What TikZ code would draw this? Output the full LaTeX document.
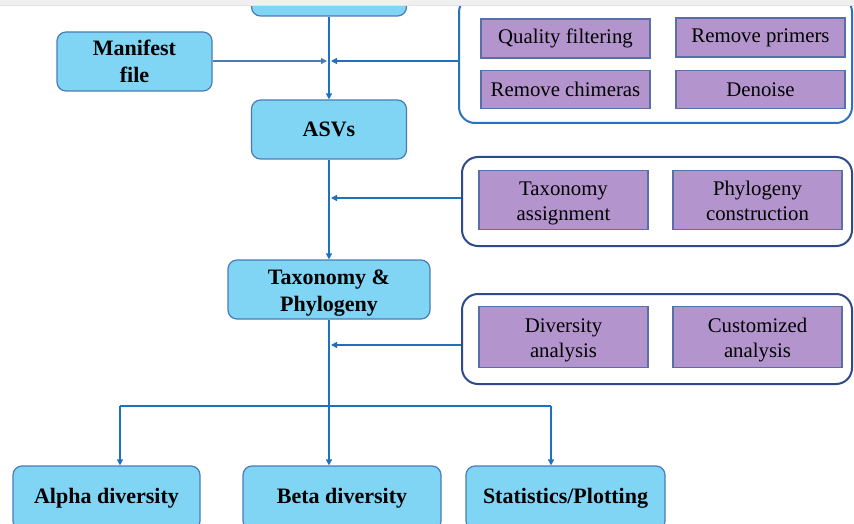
\documentclass[tikz,border=0pt]{standalone}
\usepackage{fontspec}
\setmainfont{Liberation Serif}
\usetikzlibrary{arrows.meta}
\definecolor{bfill}{HTML}{80D4F4}
\definecolor{bdraw}{HTML}{4A7BB7}
\definecolor{pfill}{HTML}{B394CC}
\definecolor{pdraw}{HTML}{5A6FA8}
\definecolor{lineblue}{HTML}{1F70C1}
\definecolor{panA}{HTML}{2A72C0}
\definecolor{panB}{HTML}{2D4A8A}
\definecolor{band}{HTML}{F0F0F0}
\definecolor{bandline}{HTML}{E2E2E2}
\begin{document}
\begin{tikzpicture}[x=1pt,y=-1pt,
  bluebox/.style={draw=bdraw,fill=bfill,line width=1.2pt,rounded corners=9pt,
    font=\fontsize{22}{27}\selectfont\bfseries,align=center,inner sep=0pt},
  purplebox/.style={draw=pdraw,fill=pfill,line width=1.2pt,
    font=\fontsize{20.8}{25.5}\selectfont,align=center,inner sep=0pt,minimum width=169pt},
  twoline/.style={text height=41pt,text depth=0pt},
  panel/.style={line width=2pt,rounded corners=16pt,inner sep=0pt},
  arrowline/.style={draw=lineblue,line width=1.8pt,-{Triangle[length=6pt,width=6pt]}},
  plainline/.style={draw=lineblue,line width=1.8pt}]
\useasboundingbox (0,0) rectangle (854,524);
\clip (0,0) rectangle (854,524);

% panels
\node[panel,draw=panA,minimum width=393pt,minimum height=127pt] (panel1) at (655.5,59.5) {};
\node[panel,draw=panB,minimum width=390pt,minimum height=89pt] (panel2) at (657,201.5) {};
\node[panel,draw=panB,minimum width=390pt,minimum height=90pt] (panel3) at (657,339) {};

% purple boxes
\node[purplebox,minimum height=39pt] (qf) at (565.5,38.5) {Quality filtering};
\node[purplebox,minimum height=39pt] (rp) at (760.5,37.5) {Remove primers};
\node[purplebox,minimum height=38pt] (rc) at (565.5,89.5) {Remove chimeras};
\node[purplebox,minimum height=38pt] (dn) at (760.5,89.5) {Denoise};
\node[purplebox,twoline,minimum height=59pt] (ta) at (563.5,200) {Taxonomy\\assignment};
\node[purplebox,twoline,minimum height=59pt] (pc) at (757.5,200) {Phylogeny\\construction};
\node[purplebox,twoline,minimum height=61pt] (da) at (563.5,337) {Diversity\\analysis};
\node[purplebox,twoline,minimum height=61pt] (ca) at (757.5,337) {Customized\\analysis};

% blue boxes
\node[bluebox,minimum width=155pt,minimum height=60pt] (top) at (329,-14) {};
\node[bluebox,minimum width=155pt,minimum height=59pt] (manifest) at (134.5,61.5) {Manifest\\file};
\node[bluebox,minimum width=155pt,minimum height=59pt] (asvs) at (329,129.5) {ASVs};
\node[bluebox,text height=44pt,text depth=0pt,minimum width=202pt,minimum height=59pt] (taxphy) at (329,289.5) {Taxonomy \&\\Phylogeny};
\node[bluebox,minimum width=187pt,minimum height=64pt] (alpha) at (106.5,498) {Alpha diversity};
\node[bluebox,minimum width=198pt,minimum height=64pt] (beta) at (342,498) {Beta diversity};
\node[bluebox,minimum width=199pt,minimum height=64pt] (stats) at (565.5,498) {Statistics/Plotting};

% junctions
\coordinate (j1) at (329,61);
\coordinate (j2) at (329,198);
\coordinate (j3) at (329,345);
\coordinate (bl) at (120,406);
\coordinate (brr) at (551,406);

% connectors
\draw[arrowline] (top.south) -- (asvs.north);
\draw[arrowline,draw=bdraw] (manifest.east |- j1) -- ([xshift=-2pt]j1);
\draw[arrowline] (panel1.west |- j1) -- ([xshift=2pt]j1);
\draw[arrowline] (asvs.south) -- (asvs.south |- taxphy.north);
\draw[arrowline] (panel2.west |- j2) -- ([xshift=2pt]j2);
\draw[arrowline] (panel3.west |- j3) -- ([xshift=2pt]j3);
\draw[arrowline] (taxphy.south) -- (taxphy.south |- beta.north);
\draw[plainline] (bl) -- (brr);
\draw[arrowline] (bl) -- (bl |- alpha.north);
\draw[arrowline] (brr) -- (brr |- stats.north);

% top band
\fill[band] (0,0) rectangle (854,5);
\draw[bandline,line width=1pt] (0,5.5) -- (854,5.5);
\end{tikzpicture}
\end{document}
